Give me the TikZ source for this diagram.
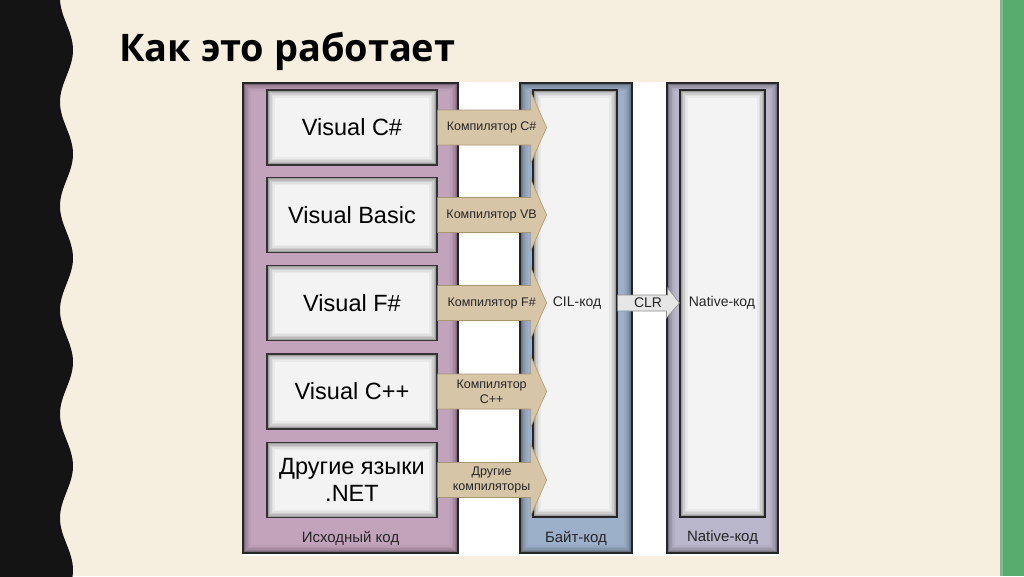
\documentclass[tikz,border=0pt]{standalone}
\usepackage{fontspec}
\setmainfont{Liberation Sans}
\newfontfamily\titlefont{Open Sans}
\usetikzlibrary{calc}
\definecolor{cream}{HTML}{F6EFDF}
\definecolor{stripe}{HTML}{57AC6E}
\definecolor{srcpurple}{HTML}{C2A3BC}
\definecolor{bytblue}{HTML}{9DB0C9}
\definecolor{natgray}{HTML}{BAB6CB}
\definecolor{boxfill}{HTML}{F3F3F3}
\definecolor{tanfill}{HTML}{D7C5A8}
\definecolor{tanline}{HTML}{A89574}
\definecolor{clrfill}{HTML}{E6E6E6}
\tikzset{
  x=1pt, y=-1pt,
  insetshadow/.style={path picture={
    \foreach \i/\o in {1/0.35,2.5/0.24,4/0.15,5.5/0.08,7/0.04}{
      \draw[black,opacity=\o,line width=1.5pt]
        ([shift={(\i pt,-\i pt)}]path picture bounding box.north west) rectangle
        ([shift={(-\i pt,\i pt)}]path picture bounding box.south east);}}},
  panel/.style={draw=black!85,line width=1.2pt,insetshadow,inner sep=0pt},
  langbox/.style={draw=black!80,line width=1.2pt,fill=boxfill,insetshadow,
    minimum width=170pt,minimum height=75pt,inner sep=0pt,font=\fontsize{23.5}{27}\selectfont,align=center},
  lowlbl/.style={font=\fontsize{15}{17}\selectfont,text=black!85},
  arrowlbl/.style={font=\fontsize{12.5}{15}\selectfont,text=black!85,align=center},
  fatarrow/.style={fill=tanfill,draw=tanline,line width=0.6pt,line join=miter},
  clrarrow/.style={fill=clrfill,draw=black!45,line width=0.6pt},
}
\newcommand\compArrow[1]{%
  \draw[fatarrow] ($(#1.east)+(0,-17.5)$) -- ++(93,0) -- ++(0,-18.5) -- ++(16,36)
     -- ++(-16,36) -- ++(0,-18.5) -- ++(-93,0) -- cycle;}
\begin{document}
\begin{tikzpicture}
\useasboundingbox (0,0) rectangle (1024,576);
\fill[cream] (0,0) rectangle (1024,576);
\fill[stripe] (1000,0) rectangle (1024,576);
\fill[stripe!80!white] (1000,0) rectangle (1003,576);
\fill[black!92] (0,-5) -- plot[domain=-5:581,samples=240,variable=\t] ({66.5+6.5*cos(3.4615*(\t-50))},\t) -- (0,581) -- cycle;

\node[anchor=base west,font=\titlefont\bfseries\fontsize{38}{44}\selectfont,inner sep=0pt] (title) at (119,61) {Как это работает};

% white backdrop
\fill[white] (243,82) rectangle (780,556);

% panels
\node[panel,fill=srcpurple,minimum width=215pt,minimum height=470pt] (src) at (350.5,318) {};
\node[panel,fill=bytblue,minimum width=112pt,minimum height=470pt] (byt) at (576,318) {};
\node[panel,fill=natgray,minimum width=111pt,minimum height=470pt] (nat) at (722.5,318) {};
\node[panel,fill=boxfill,minimum width=84pt,minimum height=427pt] (bytin) at (575,303.5) {};
\node[panel,fill=boxfill,minimum width=85pt,minimum height=427pt] (natin) at (722.5,303.5) {};

\node[lowlbl] (srclbl) at (350.5,538) {Исходный код};
\node[lowlbl] (bytlbl) at (576,538) {Байт-код};
\node[lowlbl] (natlbl) at (722.5,538) {Native-код};

% language boxes
\node[langbox] (cs) at (352,127.5) {Visual C\#};
\node[langbox] (vb) at (352,215) {Visual Basic};
\node[langbox] (fs) at (352,303) {Visual F\#};
\node[langbox] (cpp) at (352,391.5) {Visual C++};
\node[langbox,font=\fontsize{23.5}{27}\selectfont] (oth) at (352,480) {Другие языки\\.NET};

% compiler arrows
\compArrow{cs}\compArrow{vb}\compArrow{fs}\compArrow{cpp}\compArrow{oth}
\node[arrowlbl] (acs) at ($(cs.east)+(54,0)$) {Компилятор C\#};
\node[arrowlbl] (avb) at ($(vb.east)+(54,0)$) {Компилятор VB};
\node[arrowlbl] (afs) at ($(fs.east)+(54,0)$) {Компилятор F\#};
\node[arrowlbl] (acpp) at ($(cpp.east)+(54,0)$) {Компилятор\\C++};
\node[arrowlbl] (aoth) at ($(oth.east)+(54,0)$) {Другие\\компиляторы};

\node[arrowlbl,font=\fontsize{14}{16}\selectfont] (cil) at (577,303) {CIL-код};
\node[arrowlbl,font=\fontsize{14}{16}\selectfont] (natcode) at (722,303) {Native-код};

% CLR arrow
\draw[clrarrow] ($(bytin.east |- cil)+(0,-8)$) -- ++(50,0) -- ++(0,-7) -- ($(natin.west |- cil)$)
   -- ($(natin.west |- cil)+(-13,15)$) -- ++(0,-7) -- ($(bytin.east |- cil)+(0,8)$) -- cycle;
\node[arrowlbl,font=\fontsize{14}{16}\selectfont] (clr) at (648,303) {CLR};
\end{tikzpicture}
\end{document}
